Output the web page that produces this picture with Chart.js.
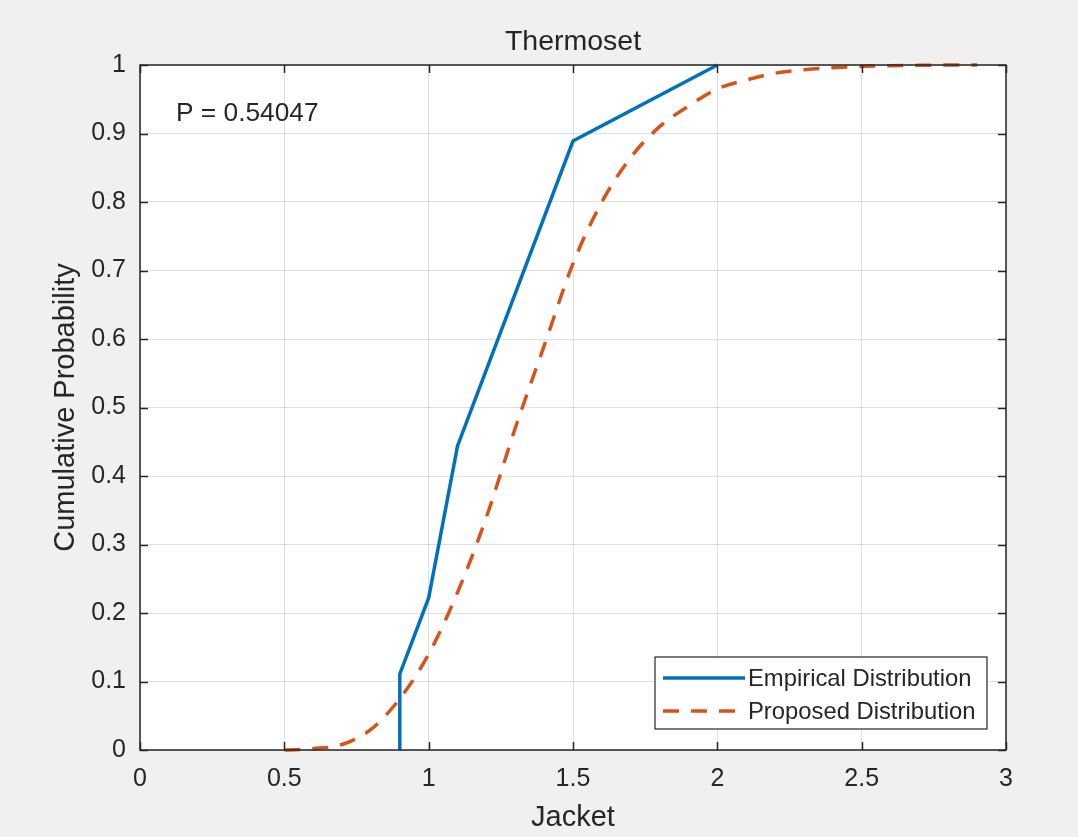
<!DOCTYPE html>
<html>
<head>
<meta charset="utf-8">
<script src="https://cdn.jsdelivr.net/npm/chart.js@4/dist/chart.umd.min.js"></script>
<style>
  html, body { margin: 0; padding: 0; background: #f0f0f0; }
  #wrap { width: 1078px; height: 837px; }
</style>
</head>
<body>
<div id="wrap"><canvas id="cdf"></canvas></div>
<script>
// values
const empX = [0.9, 0.9, 1.0, 1.1, 1.5, 2.0];
const empY = [0, 0.111, 0.222, 0.444, 0.889, 1.0];

const propX = [0.5, 0.6, 0.7, 0.8, 0.9, 1.0, 1.1, 1.2, 1.3, 1.4, 1.5, 1.6, 1.7,
               1.8, 1.9, 2.0, 2.1, 2.2, 2.3, 2.4, 2.5, 2.6, 2.7, 2.8, 2.9];
const propY = [0, 0.002, 0.008, 0.03, 0.075, 0.14, 0.23, 0.34, 0.47, 0.59, 0.71, 0.80, 0.865,
               0.91, 0.94, 0.965, 0.978, 0.988, 0.993, 0.996, 0.998, 0.999, 0.9995, 1, 1];

const xTicks = [0, 0.5, 1, 1.5, 2, 2.5, 3];
const xTickLabels = ['0', '0.5', '1', '1.5', '2', '2.5', '3'];
const yTicks = [0, 0.1, 0.2, 0.3, 0.4, 0.5, 0.6, 0.7, 0.8, 0.9, 1];
const yTickLabels = ['0', '0.1', '0.2', '0.3', '0.4', '0.5', '0.6', '0.7', '0.8', '0.9', '1'];

const seriesNames = ['Empirical Distribution', 'Proposed Distribution'];
const titleText = 'Thermoset';
const xLabel = 'Jacket';
const yLabel = 'Cumulative Probability';
const noteText = 'P = 0.54047';

const blue = '#0072BD';
const orange = '#D95319';
const ink = '#262626';
const font = '"Liberation Sans", Arial, Helvetica, sans-serif';

function toPoints(xs, ys) {
    return xs.map((x, i) => ({x: x, y: ys[i]}));
}

// white axes box + inward ticks + full frame + texts + legend
const matlabLook = {
    id: 'matlabLook',
    beforeDraw(chart) {
        const a = chart.chartArea, ctx = chart.ctx;
        ctx.save();
        ctx.fillStyle = '#ffffff';
        ctx.fillRect(a.left, a.top, a.right - a.left, a.bottom - a.top);
        ctx.restore();
    },
    afterDraw(chart) {
        const a = chart.chartArea, ctx = chart.ctx;
        const xs = chart.scales.x, ys = chart.scales.y;
        ctx.save();
        ctx.strokeStyle = ink;
        ctx.lineWidth = 1.5;
        ctx.strokeRect(a.left, a.top, a.right - a.left, a.bottom - a.top);
        const tl = 8;
        ctx.beginPath();
        xTicks.forEach(v => {
            const px = Math.round(xs.getPixelForValue(v)) + 0.5;
            ctx.moveTo(px, a.bottom); ctx.lineTo(px, a.bottom - tl);
            ctx.moveTo(px, a.top); ctx.lineTo(px, a.top + tl);
        });
        yTicks.forEach(v => {
            const py = Math.round(ys.getPixelForValue(v)) + 0.5;
            ctx.moveTo(a.left, py); ctx.lineTo(a.left + tl, py);
            ctx.moveTo(a.right, py); ctx.lineTo(a.right - tl, py);
        });
        ctx.stroke();

        const cx = (a.left + a.right) / 2;
        ctx.fillStyle = ink;
        ctx.textAlign = 'center';
        ctx.textBaseline = 'middle';
        ctx.font = '28.5px ' + font;
        ctx.fillText(titleText, cx, 42);
        ctx.font = '29px ' + font;
        ctx.fillText(xLabel, cx, 818);
        ctx.save();
        ctx.translate(66, (a.top + a.bottom) / 2);
        ctx.rotate(-Math.PI / 2);
        ctx.fillText(yLabel, 0, 0);
        ctx.restore();

        ctx.textAlign = 'left';
        ctx.font = '26.3px ' + font;
        ctx.fillText(noteText, 176, 114);

        // legend
        const lx = 655, ly = 657, lw = 332, lh = 72;
        ctx.fillStyle = '#ffffff';
        ctx.fillRect(lx, ly, lw, lh);
        ctx.strokeStyle = ink;
        ctx.lineWidth = 1.2;
        ctx.strokeRect(lx, ly, lw, lh);
        const rows = [ly + 21, ly + 54];
        chart.data.datasets.forEach((ds, i) => {
            ctx.strokeStyle = ds.borderColor;
            ctx.lineWidth = ds.borderWidth;
            ctx.setLineDash(ds.borderDash || []);
            ctx.beginPath();
            ctx.moveTo(lx + 8, rows[i]);
            ctx.lineTo(lx + 90, rows[i]);
            ctx.stroke();
            ctx.setLineDash([]);
            ctx.fillStyle = ink;
            ctx.font = '23.8px ' + font;
            ctx.fillText(ds.label, lx + 93, rows[i] + 1);
        });
        ctx.restore();
    }
};

const gridColor = 'rgba(38,38,38,0.15)';

new Chart(document.getElementById('cdf'), {
    type: 'scatter',
    data: {
        datasets: [{
            label: seriesNames[0],
            data: toPoints(empX, empY),
            showLine: true,
            borderColor: blue,
            borderWidth: 3.5,
            pointRadius: 0,
            tension: 0,
            clip: 3
        }, {
            label: seriesNames[1],
            data: toPoints(propX, propY),
            showLine: true,
            borderColor: orange,
            borderWidth: 3.5,
            borderDash: [16, 12],
            pointRadius: 0,
            cubicInterpolationMode: 'monotone',
            clip: 3
        }]
    },
    options: {
        responsive: true,
        maintainAspectRatio: false,
        animation: false,
        layout: { padding: { left: 0, top: 65, right: 72, bottom: 0 } },
        plugins: {
            legend: { display: false },
            title: { display: false },
            tooltip: { enabled: false }
        },
        scales: {
            x: {
                type: 'linear',
                min: 0, max: 3,
                afterBuildTicks: s => { s.ticks = xTicks.map(v => ({value: v})); },
                afterFit: s => { s.height = 87; },
                grid: { color: gridColor, drawTicks: false, lineWidth: 1 },
                border: { display: false },
                ticks: {
                    padding: 14,
                    color: ink,
                    font: { family: font, size: 25 },
                    callback: (v) => xTickLabels[xTicks.indexOf(v)]
                }
            },
            y: {
                type: 'linear',
                min: 0, max: 1,
                afterBuildTicks: s => { s.ticks = yTicks.map(v => ({value: v})); },
                afterFit: s => { s.width = 140; },
                grid: { color: gridColor, drawTicks: false, lineWidth: 1 },
                border: { display: false },
                ticks: {
                    padding: 14,
                    color: ink,
                    font: { family: font, size: 25 },
                    callback: (v) => yTickLabels[yTicks.indexOf(v)]
                }
            }
        }
    },
    plugins: [matlabLook]
});
</script>
</body>
</html>
